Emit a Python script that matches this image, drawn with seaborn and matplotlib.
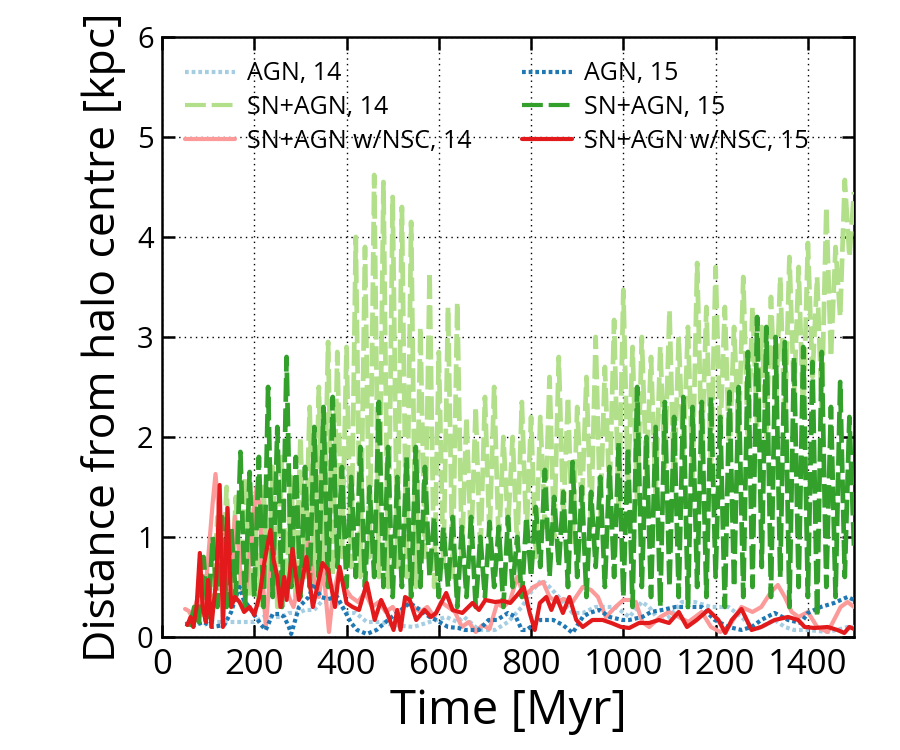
import numpy as np
import matplotlib
matplotlib.use("Agg")
import matplotlib.pyplot as plt
import seaborn as sns

# --- data (Time [Myr], distance [kpc]) ---
agn14_time = [50, 70, 90, 110, 134, 150, 168, 190, 200, 220, 240, 260, 275, 295, 310, 330, 345, 360,
              380, 400, 420, 444, 475, 500, 545, 580, 616, 640, 655, 687, 722, 750, 780, 800, 823,
              840, 860, 890, 912, 940, 983, 1013, 1040, 1056, 1080, 1099, 1127, 1155, 1190, 1228,
              1256, 1285, 1328, 1350, 1370, 1400, 1443, 1471, 1486, 1500]
agn14_dist = [0.13, 0.15, 0.12, 0.15, 0.15, 0.15, 0.15, 0.15, 0.15, 0.2, 0.2, 0.2, 0.24, 0.24, 0.27,
              0.27, 0.35, 0.35, 0.35, 0.24, 0.24, 0.15, 0.15, 0.12, 0.1, 0.15, 0.2, 0.15, 0.2, 0.07,
              0.07, 0.15, 0.3, 0.45, 0.57, 0.5, 0.4, 0.24, 0.24, 0.3, 0.3, 0.2, 0.35, 0.3, 0.15, 0.2,
              0.35, 0.35, 0.3, 0.3, 0.2, 0.07, 0.17, 0.1, 0.07, 0.07, 0.05, 0.08, 0.1, 0.1]

agn15_time = [50, 70, 90, 110, 135, 150, 160, 168, 177, 189, 203, 215, 225, 240, 255, 265, 275, 280,
              297, 318, 330, 344, 360, 380, 395, 410, 423, 444, 465, 490, 518, 537, 560, 580, 594,
              620, 642, 656, 687, 708, 726, 750, 767, 780, 790, 819, 848, 869, 890, 912, 926, 948,
              970, 998, 1013, 1041, 1060, 1084, 1113, 1140, 1170, 1198, 1228, 1256, 1278, 1299,
              1328, 1357, 1385, 1400, 1428, 1457, 1486, 1500]
agn15_dist = [0.13, 0.12, 0.15, 0.1, 0.12, 0.25, 0.4, 0.5, 0.37, 0.3, 0.2, 0.12, 0.07, 0.23, 0.23,
              0.2, 0.1, 0.03, 0.3, 0.4, 0.53, 0.4, 0.38, 0.4, 0.27, 0.14, 0.07, 0.03, 0.07, 0.17,
              0.27, 0.34, 0.27, 0.2, 0.17, 0.1, 0.09, 0.07, 0.07, 0.17, 0.17, 0.24, 0.2, 0.07, 0.07,
              0.17, 0.17, 0.12, 0.04, 0.2, 0.24, 0.27, 0.2, 0.17, 0.17, 0.2, 0.25, 0.27, 0.3, 0.3,
              0.3, 0.17, 0.1, 0.07, 0.1, 0.17, 0.24, 0.17, 0.14, 0.24, 0.3, 0.34, 0.4, 0.37]

sn14_time = [90, 100, 110, 120, 130, 140, 150, 160, 170, 180, 190, 200, 210, 220, 230, 240, 250,
             260, 270, 280, 290, 300, 310, 320, 330, 340, 350, 360, 370, 380, 390, 400, 410, 420,
             430, 440, 450, 460, 470, 480, 490, 500, 510, 520, 530, 540, 550, 560, 570, 580, 590,
             600, 610, 620, 630, 640, 650, 660, 670, 680, 690, 700, 710, 720, 730, 740, 750, 760,
             770, 780, 790, 800, 810, 820, 830, 840, 850, 860, 870, 880, 890, 900, 910, 920, 930,
             940, 950, 960, 970, 980, 990, 1000, 1010, 1020, 1030, 1040, 1050, 1060, 1070, 1080,
             1090, 1100, 1110, 1120, 1130, 1140, 1150, 1160, 1170, 1180, 1190, 1200, 1210, 1220,
             1230, 1240, 1250, 1260, 1270, 1280, 1290, 1300, 1310, 1320, 1330, 1340, 1350, 1360,
             1370, 1380, 1390, 1400, 1410, 1420, 1430, 1440, 1450, 1460, 1470, 1480, 1490, 1500]
sn14_dist = [0.2, 0.6, 0.3, 1.2, 0.4, 1.5, 0.3, 1.4, 0.5, 1.6, 0.4, 1.4, 0.3, 1.5, 0.5, 1.7, 0.3,
             1.8, 0.5, 1.6, 0.4, 2.0, 0.6, 2.3, 0.5, 2.5, 0.7, 2.95, 0.6, 2.85, 0.8, 2.9, 0.7, 4.0,
             0.6, 3.9, 0.8, 4.62, 0.6, 4.55, 0.5, 4.4, 0.7, 4.3, 0.6, 4.15, 0.5, 3.1, 0.8, 3.65,
             0.5, 2.85, 0.7, 3.3, 0.6, 3.35, 0.8, 2.2, 0.9, 2.3, 0.8, 2.4, 1.0, 2.5, 0.9, 2.0, 1.1,
             2.0, 0.9, 2.35, 1.0, 2.2, 0.8, 2.2, 1.1, 2.6, 1.0, 2.8, 1.2, 2.4, 0.9, 2.3, 1.3, 2.6,
             1.1, 3.0, 1.2, 2.7, 1.4, 3.17, 1.2, 3.47, 1.5, 2.9, 1.3, 3.0, 1.6, 2.8, 1.4, 2.9, 1.7,
             3.27, 1.5, 3.0, 1.8, 3.1, 1.6, 3.74, 1.8, 3.3, 1.7, 3.7, 2.0, 3.3, 1.8, 3.1, 2.0, 3.6,
             1.9, 3.3, 2.1, 3.1, 2.0, 3.4, 2.2, 3.6, 2.1, 3.8, 2.4, 3.7, 2.2, 3.94, 2.6, 3.6, 2.3,
             4.3, 2.8, 3.9, 3.2, 4.57, 3.8, 4.45]

sn15_time = [60, 70, 80] + sn14_time
sn15_dist = [0.1, 0.3, 0.15, 0.8, 0.2, 1.0, 0.3, 1.2, 0.3, 1.1, 0.4, 1.85, 0.3, 1.65, 0.4, 1.8, 0.3,
             2.5, 0.4, 2.1, 0.3, 2.8, 0.5, 1.8, 0.4, 1.7, 0.5, 2.1, 0.6, 2.3, 0.5, 2.4, 0.7, 1.7,
             0.5, 1.6, 0.6, 1.9, 0.5, 1.5, 0.6, 2.35, 0.5, 1.9, 0.4, 1.6, 0.5, 1.8, 0.4, 1.9, 0.5,
             1.7, 0.6, 1.2, 0.4, 1.1, 0.5, 1.2, 0.3, 1.1, 0.4, 1.2, 0.3, 1.0, 0.4, 1.15, 0.5, 1.1,
             0.3, 1.2, 0.5, 1.0, 0.4, 1.2, 0.6, 1.3, 0.7, 1.67, 0.6, 1.4, 0.7, 1.45, 0.5, 1.75, 0.6,
             1.5, 0.4, 1.45, 0.7, 1.6, 0.5, 1.7, 0.6, 1.95, 0.4, 1.9, 0.3, 2.5, 0.5, 2.0, 0.4, 2.1,
             0.3, 2.35, 0.5, 2.2, 0.4, 2.4, 0.3, 2.3, 0.5, 2.35, 0.4, 2.4, 0.6, 2.2, 0.3, 2.45, 0.5,
             2.5, 0.4, 2.85, 0.5, 3.2, 0.7, 3.1, 0.4, 3.0, 0.6, 2.95, 0.3, 2.8, 0.5, 2.9, 0.4, 2.75,
             0.2, 2.85, 0.5, 2.3, 0.4, 2.55, 0.6, 2.2, 0.9]

nsc14_time = [50, 58, 65, 72, 80, 88, 95, 102, 110, 116, 122, 128, 135, 142, 150, 158, 165, 172,
              180, 188, 196, 205, 212, 218, 225, 232, 240, 248, 256, 265, 275, 285, 295, 305, 318,
              328, 340, 350, 357, 362, 370, 385, 395, 410, 425, 440, 455, 470, 485, 500, 515, 530,
              545, 560, 575, 590, 605, 620, 635, 650, 665, 680, 695, 710, 726, 740, 755, 770, 785,
              805, 826, 840, 855, 870, 890, 912, 930, 945, 962, 983, 1000, 1013, 1027, 1041, 1056,
              1080, 1099, 1120, 1141, 1170, 1190, 1210, 1228, 1256, 1280, 1299, 1320, 1335, 1350,
              1365, 1380, 1400, 1420, 1443, 1460, 1471, 1486, 1500]
nsc14_dist = [0.28, 0.26, 0.2, 0.3, 0.45, 0.25, 0.5, 0.9, 1.35, 1.63, 1.3, 0.7, 0.5, 1.0, 0.6, 1.2,
              0.95, 0.5, 0.4, 0.7, 1.1, 1.5, 1.3, 0.6, 0.1, 0.5, 0.9, 0.5, 0.3, 0.6, 0.4, 0.3, 0.5,
              0.7, 0.95, 0.6, 0.4, 0.7, 0.3, 0.05, 0.4, 0.7, 0.5, 0.4, 0.35, 0.45, 0.3, 0.35, 0.25,
              0.3, 0.2, 0.35, 0.3, 0.25, 0.3, 0.2, 0.35, 0.3, 0.25, 0.1, 0.15, 0.05, 0.12, 0.08,
              0.33, 0.3, 0.37, 0.6, 0.4, 0.5, 0.55, 0.4, 0.35, 0.38, 0.35, 0.5, 0.47, 0.4, 0.2, 0.3,
              0.37, 0.37, 0.35, 0.15, 0.1, 0.2, 0.25, 0.2, 0.15, 0.25, 0.1, 0.05, 0.1, 0.3, 0.25,
              0.3, 0.45, 0.52, 0.4, 0.25, 0.2, 0.25, 0.1, 0.05, 0.2, 0.3, 0.35, 0.3]

nsc15_time = [55, 62, 68, 75, 82, 88, 95, 100, 107, 118, 125, 132, 142, 150, 158, 168, 178, 190,
              200, 211, 222, 235, 242, 250, 257, 265, 270, 283, 297, 313, 327, 348, 360, 375, 385,
              400, 413, 427, 444, 461, 475, 488, 502, 510, 517, 527, 537, 551, 569, 583, 594, 616,
              630, 651, 673, 687, 701, 722, 740, 755, 770, 784, 797, 808, 819, 833, 844, 855, 869,
              883, 898, 912, 933, 955, 974, 995, 1013, 1034, 1056, 1077, 1099, 1120, 1138, 1159,
              1184, 1206, 1221, 1235, 1256, 1278, 1299, 1328, 1357, 1379, 1393, 1414, 1443, 1464,
              1479, 1490, 1500]
nsc15_dist = [0.12, 0.2, 0.1, 0.3, 0.84, 0.3, 0.15, 0.57, 0.1, 0.6, 1.52, 0.1, 1.29, 0.3, 0.4,
              0.35, 0.25, 0.3, 0.22, 0.4, 0.75, 1.07, 0.77, 0.6, 0.3, 0.6, 0.37, 0.88, 0.37, 0.8,
              0.3, 0.74, 0.67, 0.3, 0.7, 0.34, 0.3, 0.27, 0.54, 0.17, 0.37, 0.24, 0.07, 0.27, 0.07,
              0.4, 0.37, 0.17, 0.27, 0.2, 0.24, 0.44, 0.27, 0.24, 0.34, 0.27, 0.37, 0.35, 0.36,
              0.34, 0.42, 0.5, 0.24, 0.07, 0.34, 0.4, 0.27, 0.4, 0.24, 0.4, 0.17, 0.1, 0.17, 0.17,
              0.14, 0.1, 0.09, 0.14, 0.14, 0.17, 0.14, 0.25, 0.1, 0.17, 0.27, 0.17, 0.04, 0.17,
              0.28, 0.07, 0.1, 0.17, 0.2, 0.17, 0.1, 0.09, 0.1, 0.07, 0.04, 0.1, 0.08]

labels = ["AGN, 14", "SN+AGN, 14", "SN+AGN w/NSC, 14",
          "AGN, 15", "SN+AGN, 15", "SN+AGN w/NSC, 15"]

# --- style ---
sns.set_style("ticks")
plt.rcParams["font.family"] = ["Open Sans", "DejaVu Sans"]
plt.rcParams.update({
    "text.color": "black",
    "axes.labelcolor": "black",
    "axes.edgecolor": "black",
    "xtick.color": "black",
    "ytick.color": "black",
})
pal = sns.color_palette("Paired", 6)
dotted = (0, (0.9, 0.7))
dashed = (0, (5, 1.4))

fig = plt.figure(figsize=(9, 7.5), dpi=100)
ax = fig.add_axes([0.18, 0.1507, 0.7689, 0.8])

series = [
    (agn14_time, agn14_dist, pal[0], dotted, 3.0),
    (sn14_time, sn14_dist, pal[2], dashed, 3.4),
    (nsc14_time, nsc14_dist, pal[4], "-", 3.0),
    (agn15_time, agn15_dist, pal[1], dotted, 3.0),
    (sn15_time, sn15_dist, pal[3], dashed, 3.4),
    (nsc15_time, nsc15_dist, pal[5], "-", 3.0),
]
for (t, d, c, ls, w), lab in zip(series, labels):
    sns.lineplot(x=t, y=d, color=c, lw=w, linestyle=ls, label=lab, ax=ax, zorder=3)

ax.set_xlim(0, 1500)
ax.set_ylim(0, 6)
ax.set_xticks([0, 200, 400, 600, 800, 1000, 1200, 1400])
ax.set_yticks([0, 1, 2, 3, 4, 5, 6])
ax.grid(True, color="black", linestyle=(0, (1, 3)), linewidth=1, zorder=0)
ax.set_axisbelow(True)

ax.tick_params(direction="in", length=9, width=1.8, top=True, right=True)
ax.tick_params(axis="x", labelsize=25, pad=8)
ax.tick_params(axis="y", labelsize=21, pad=6)
for s in ax.spines.values():
    s.set_linewidth(1.8)

ax.set_xlabel("Time [Myr]", fontsize=34, labelpad=4)
ax.set_ylabel("Distance from halo centre [kpc]", fontsize=32, labelpad=8)

leg = ax.legend(loc="upper left", ncol=2, frameon=False, fontsize=18,
                handlelength=2.0, handletextpad=0.5, columnspacing=2.0,
                labelspacing=0.35, bbox_to_anchor=(0.0, 0.997))
for line in leg.get_lines():
    line.set_linewidth(3.0)

fig.savefig("out.png", dpi=100)
